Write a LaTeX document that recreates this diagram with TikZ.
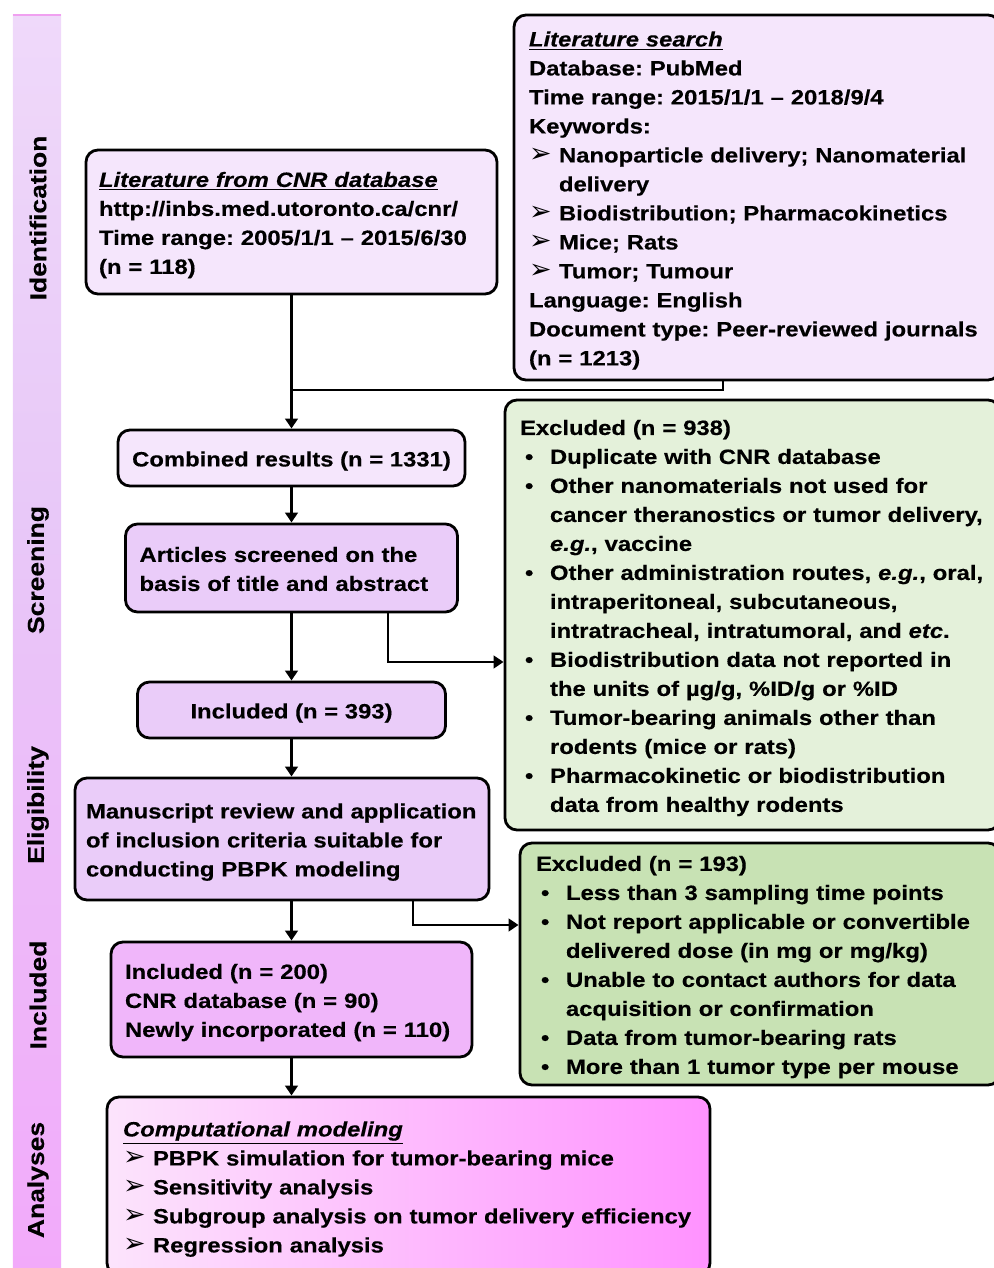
\documentclass[tikz,border=0pt]{standalone}
\usepackage{fontspec}
\setmainfont{Liberation Sans}[FakeStretch=1.15, FakeBold=0.4]
\newfontfamily\symfont{DejaVu Sans}
\usetikzlibrary{arrows.meta}
\frenchspacing

\definecolor{lav}{RGB}{245,230,252}
\definecolor{lilac}{RGB}{234,204,249}
\definecolor{orchid}{RGB}{240,182,250}
\definecolor{mint}{RGB}{228,241,218}
\definecolor{sage}{RGB}{200,226,180}
\definecolor{compL}{RGB}{252,228,252}
\definecolor{compR}{RGB}{255,146,255}
\definecolor{sbtop}{RGB}{248,238,252}
\definecolor{sbmid}{RGB}{232,200,248}
\definecolor{sblow}{RGB}{242,170,250}
\definecolor{sbbot}{RGB}{255,150,255}
\definecolor{sbline}{RGB}{240,160,240}

\pgfdeclareverticalshading{sidebar}{100bp}{color(0bp)=(sbbot); color(25bp)=(sblow); color(55bp)=(sbmid); color(100bp)=(sbtop)}

\newcommand{\tri}{\makebox[0.6cm][l]{\scalebox{1.3}{\symfont ➢}}}
\newcommand{\bul}{\makebox[0.6cm][l]{\hspace{0.1cm}•}}
\newcommand{\ind}{\hspace*{0.6cm}}
\newcommand{\hdr}[1]{\underline{\textit{#1}}}
\newcommand{\rows}[1]{\raisebox{-1.5pt}[\height][\depth]{\begin{tabular}{@{}l@{}}#1\end{tabular}}}

\tikzset{
  box/.style={draw, line width=1.6pt, rounded corners=0.24cm, inner xsep=0.28cm,
    inner ysep=0pt, align=left, font=\fontsize{11.8}{16.5}\selectfont\bfseries},
  phase/.style={rotate=90, font=\fontsize{13.1}{15}\selectfont\bfseries},
  arr/.style={line width=1.5pt, -{Triangle[length=0.2cm,width=0.25cm]}},
  link/.style={line width=1.5pt},
}

\begin{document}
\begin{tikzpicture}
    \useasboundingbox (0,0) rectangle (19.88,25.36);
    \clip (0,0) rectangle (19.88,25.36);

    % stage bar
    \shade[shading=sidebar] (0.26,0) rectangle (1.22,25.06);
    \draw[sbline, line width=0.8pt] (0.26,25.06) -- (1.22,25.06);
    \node[phase] (ident) at (0.76,21.0) {Identification};
    \node[phase] (screen) at (0.76,13.96) {Screening};
    \node[phase] (elig) at (0.76,9.26) {Eligibility};
    \node[phase] (incl) at (0.76,5.46) {Included};
    \node[phase] (anal) at (0.76,1.76) {Analyses};

    % sources
    \node[box, fill=lav, minimum width=8.22cm, minimum height=2.88cm, inner xsep=0.26cm,
      text width=7.70cm] (cnr) at (5.83,20.92) {\rows{
      \hdr{Literature from CNR database}\\
      http://inbs.med.utoronto.ca/cnr/\\
      Time range: 2005/1/1 -- 2015/6/30\\
      (n = 118)}};
    \node[box, fill=lav, minimum width=9.72cm, minimum height=7.30cm, inner xsep=0.30cm,
      text width=9.12cm] (lit) at (15.14,21.41) {\rows{
      \hdr{Literature search}\\
      Database: PubMed\\
      Time range: 2015/1/1 -- 2018/9/4\\
      Keywords:\\
      \tri Nanoparticle delivery; Nanomaterial\\
      \ind delivery\\
      \tri Biodistribution; Pharmacokinetics\\
      \tri Mice; Rats\\
      \tri Tumor; Tumour\\
      Language: English\\
      Document type: Peer-reviewed journals\\
      (n = 1213)}};

    % main column
    \node[box, fill=lav, minimum width=6.94cm, minimum height=1.12cm, align=center]
      (comb) at (5.83,16.20) {\rows{Combined results (n = 1331)}};
    \node[box, fill=lilac, minimum width=6.64cm, minimum height=1.76cm,
      text width=6.08cm] (art) at (5.83,14.00) {\rows{
      Articles screened on the\\
      basis of title and abstract}};
    \node[box, fill=lilac, minimum width=6.16cm, minimum height=1.12cm, align=center]
      (inc1) at (5.83,11.16) {\rows{Included (n = 393)}};
    \node[box, fill=lilac, minimum width=8.28cm, minimum height=2.44cm, inner xsep=0.22cm,
      text width=7.84cm] (man) at (5.64,8.58) {\rows{
      Manuscript review and application\\
      of inclusion criteria suitable for\\
      conducting PBPK modeling}};
    \node[box, fill=orchid, minimum width=7.22cm, minimum height=2.30cm,
      text width=6.66cm] (inc2) at (5.83,5.37) {\rows{
      Included (n = 200)\\
      CNR database (n = 90)\\
      Newly incorporated (n = 110)}};
    \node[box, left color=compL, right color=compR, minimum width=12.06cm,
      minimum height=3.56cm, inner xsep=0.32cm, text width=11.42cm]
      (comp) at (8.17,1.64) {\rows{
      \hdr{Computational modeling}\\
      \tri PBPK simulation for tumor-bearing mice\\
      \tri Sensitivity analysis\\
      \tri Subgroup analysis on tumor delivery efficiency\\
      \tri Regression analysis}};

    % exclusions
    \node[box, fill=mint, minimum width=9.9cm, minimum height=8.6cm, inner xsep=0.30cm,
      text width=9.3cm] (exc1) at (15.05,13.06) {\rows{
      Excluded (n = 938)\\
      \bul Duplicate with CNR database\\
      \bul Other nanomaterials not used for\\
      \ind cancer theranostics or tumor delivery,\\
      \ind \textit{e.g.}, vaccine\\
      \bul Other administration routes, \textit{e.g.}, oral,\\
      \ind intraperitoneal, subcutaneous,\\
      \ind intratracheal, intratumoral, and \textit{etc}.\\
      \bul Biodistribution data not reported in\\
      \ind the units of µg/g, \%ID/g or \%ID\\
      \bul Tumor-bearing animals other than\\
      \ind rodents (mice or rats)\\
      \bul Pharmacokinetic or biodistribution\\
      \ind data from healthy rodents}};
    \node[box, fill=sage, minimum width=9.6cm, minimum height=4.84cm, inner xsep=0.32cm,
      text width=8.96cm] (exc2) at (15.2,6.08) {\rows{
      Excluded (n = 193)\\
      \bul Less than 3 sampling time points\\
      \bul Not report applicable or convertible\\
      \ind delivered dose (in mg or mg/kg)\\
      \bul Unable to contact authors for data\\
      \ind acquisition or confirmation\\
      \bul Data from tumor-bearing rats\\
      \bul More than 1 tumor type per mouse}};

    % connectors
    \coordinate (join) at (5.83,17.56);
    \draw[link] (cnr) -- (join);
    \draw[link] ([xshift=-0.68cm]lit.south) |- (join);
    \draw[arr] (join) -- (comb);
    \draw[arr] (comb) -- (art);
    \draw[arr] (art) -- (inc1);
    \draw[arr] (inc1.south) -- (inc1.south |- man.north);
    \draw[arr] (inc2.north |- man.south) -- (inc2);
    \draw[arr] (inc2.south) -- (inc2.south |- comp.north);
    \draw[arr] ([xshift=1.93cm]art.south) |- ([yshift=-0.94cm]exc1.west);
    \draw[arr] ([xshift=2.62cm]man.south) |- ([yshift=0.78cm]exc2.west);
\end{tikzpicture}
\end{document}
